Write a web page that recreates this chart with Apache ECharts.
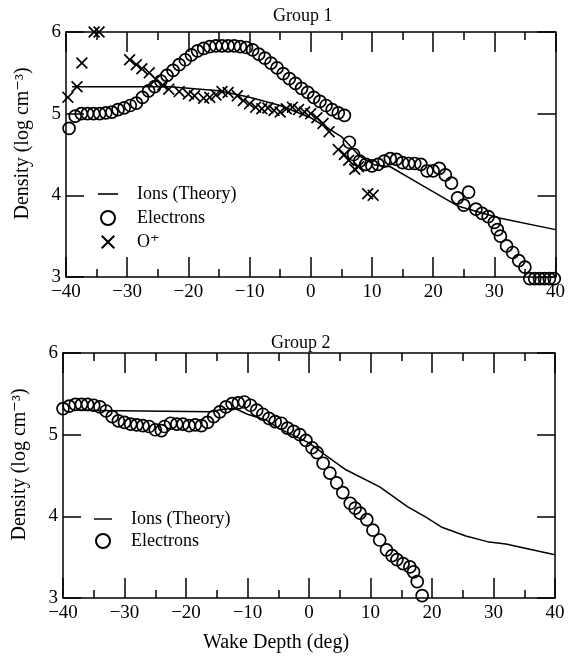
<!DOCTYPE html>
<html>
<head>
<meta charset="utf-8">
<script src="https://cdn.jsdelivr.net/npm/echarts@6/dist/echarts.min.js"></script>
<style>
html,body{margin:0;padding:0;background:#fff;}
#chart{width:568px;height:656px;}
</style>
</head>
<body>
<div id="chart"></div>
<script>
// ---- Data (wake depth in deg, density in log cm^-3) ----
const titles = ['Group 1', 'Group 2'];
const seriesNames = ['Ions (Theory)', 'Electrons', 'O\u207A'];
const xTicks = { min: -40, max: 40, step: 10 };
const yTicks = { min: 3, max: 6, step: 1 };

const ionsTheory1 = [[-39,5.33],[-23,5.33],[-15,5.28],[-10,5.2],[-5,5.1],[0,4.95],[5,4.72],[8,4.48],[10.5,4.37],[13,4.35],[18,4.13],[24,3.87],[31,3.72],[40,3.58]];

const electrons1 = [[-39.5,4.82],[-38.5,4.97],[-37.5,5.0],[-36.5,5.0],[-35.5,5.0],[-34.5,5.0],[-33.5,5.01],[-32.5,5.02],[-31.5,5.05],[-30.5,5.07],[-29.5,5.1],[-28.5,5.13],[-27.5,5.2],[-26.5,5.28],[-25.5,5.33],[-24.5,5.4],[-23.5,5.47],[-22.5,5.53],[-21.5,5.6],[-20.5,5.66],[-19.5,5.72],[-18.5,5.77],[-17.5,5.8],[-16.5,5.82],[-15.5,5.83],[-14.5,5.83],[-13.5,5.83],[-12.5,5.83],[-11.5,5.82],[-10.5,5.81],[-9.5,5.78],[-8.5,5.73],[-7.5,5.68],[-6.5,5.62],[-5.5,5.56],[-4.5,5.49],[-3.5,5.43],[-2.5,5.37],[-1.5,5.31],[-0.5,5.26],[0.5,5.2],[1.5,5.15],[2.5,5.1],[3.5,5.05],[4.5,5.01],[5.5,4.98],[6.3,4.65],[7,4.5],[8,4.42],[9,4.38],[10,4.36],[11,4.38],[12,4.42],[13,4.45],[14,4.44],[15,4.4],[16,4.39],[17,4.39],[18,4.38],[19,4.3],[20,4.3],[21,4.33],[22,4.25],[23,4.15],[24,3.97],[25,3.88],[25.8,4.04],[27,3.83],[28,3.78],[29,3.74],[30,3.67],[30.5,3.58],[31,3.5],[32,3.38],[33,3.3],[34,3.2],[35,3.12],[35.8,2.98],[36.6,2.98],[37.4,2.98],[38.2,2.98],[39,2.98],[39.8,2.98]];

const oPlus1 = [[-39.7,5.2],[-38.2,5.33],[-37.4,5.62],[-35.4,6.0],[-34.6,6.0],[-29.6,5.66],[-28.5,5.6],[-27.6,5.55],[-26.4,5.5],[-25.3,5.42],[-24.2,5.35],[-23.2,5.3],[-21.5,5.27],[-20,5.24],[-19,5.22],[-17.5,5.19],[-16.5,5.2],[-15.5,5.23],[-14.5,5.27],[-13.5,5.26],[-12,5.22],[-11,5.16],[-10,5.12],[-9,5.08],[-8,5.06],[-7,5.07],[-6,5.04],[-5,5.02],[-4,5.06],[-3,5.08],[-2,5.05],[-1,5.02],[0,5.0],[1,4.95],[2,4.88],[3,4.78],[4.5,4.56],[5.5,4.5],[6.2,4.43],[7.2,4.32],[7.8,4.35],[9.3,4.02],[10.2,4.0]];

const ionsTheory2 = [[-38,5.3],[-16,5.28],[-14,5.31],[-12,5.32],[-10,5.25],[-7,5.18],[-5,5.08],[0,4.9],[3,4.73],[6,4.57],[11.5,4.36],[16,4.12],[19,3.99],[21.5,3.87],[25.5,3.76],[29,3.69],[32,3.66],[40,3.53]];

const electrons2 = [[-40,5.32],[-39,5.35],[-38,5.37],[-37,5.37],[-36,5.37],[-35,5.36],[-34,5.34],[-33,5.29],[-32,5.22],[-31,5.17],[-30,5.15],[-29,5.13],[-28,5.12],[-27,5.11],[-26,5.1],[-25,5.06],[-24,5.05],[-23.5,5.1],[-22.5,5.14],[-21.5,5.13],[-20.5,5.13],[-19.5,5.11],[-18.5,5.12],[-17.5,5.11],[-16.5,5.15],[-15.5,5.22],[-14.5,5.28],[-13.5,5.34],[-12.5,5.38],[-11.5,5.39],[-10.5,5.4],[-9.5,5.36],[-8.5,5.3],[-7.5,5.25],[-6.5,5.2],[-5.5,5.16],[-4.5,5.14],[-3.5,5.08],[-2.5,5.04],[-1.5,5.0],[-0.5,4.93],[0.5,4.84],[1.3,4.78],[2.3,4.65],[3.4,4.53],[4.5,4.41],[5.5,4.29],[6.7,4.16],[7.5,4.1],[8.3,4.04],[9.4,3.96],[10.4,3.83],[11.5,3.71],[12.6,3.59],[13.5,3.52],[14.3,3.47],[15.3,3.42],[16.4,3.38],[17,3.32],[17.6,3.2],[18.4,3.03]];

// ---- Styling ----
const FONT = "'Liberation Serif','DejaVu Serif',serif";
const BLACK = '#000';
const xSymbol = 'path://M0,1L1,0L5,4L9,0L10,1L6,5L10,9L9,10L5,6L1,10L0,9L4,5Z';
const dashIcon = 'path://M0,0H20V1.6H0Z';
const fmt = v => (v < 0 ? '\u2212' + Math.abs(v) : String(v));

function xAxes(gi, withName) {
  const base = {
    gridIndex: gi, type: 'value', min: xTicks.min, max: xTicks.max, interval: xTicks.step,
    axisLine: { show: true, onZero: false, lineStyle: { color: BLACK, width: 1.5 } },
    axisTick: { show: true, inside: true, length: 20, lineStyle: { color: BLACK, width: 1.5 } },
    minorTick: { show: true, splitNumber: 2, length: 8, lineStyle: { color: BLACK, width: 1.5 } },
    splitLine: { show: false }, minorSplitLine: { show: false }
  };
  const bottom = Object.assign({}, base, {
    position: 'bottom',
    axisLabel: { show: true, formatter: fmt, color: BLACK, fontFamily: FONT, fontSize: 19, margin: 6 }
  });
  if (withName) {
    Object.assign(bottom, {
      name: 'Wake Depth (deg)', nameLocation: 'middle', nameGap: 35,
      nameTextStyle: { color: BLACK, fontFamily: FONT, fontSize: 20, padding: [0, 66, 0, 0] }
    });
  }
  const top = Object.assign({}, base, { position: 'top', axisLabel: { show: false } });
  return [bottom, top];
}
function yAxes(gi) {
  const base = {
    gridIndex: gi, type: 'value', min: yTicks.min, max: yTicks.max, interval: yTicks.step,
    axisLine: { show: true, onZero: false, lineStyle: { color: BLACK, width: 1.5 } },
    axisTick: { show: true, inside: true, length: 18, lineStyle: { color: BLACK, width: 1.5 } },
    splitLine: { show: false }
  };
  const left = Object.assign({}, base, {
    position: 'left',
    axisLabel: { show: true, color: BLACK, fontFamily: FONT, fontSize: 19, margin: 5 },
    name: 'Density (log cm\u207B\u00B3)', nameLocation: 'middle', nameGap: 33,
    nameTextStyle: { color: BLACK, fontFamily: FONT, fontSize: 20, padding: [0, 0, 0, 22] }
  });
  const right = Object.assign({}, base, { position: 'right', axisLabel: { show: false } });
  return [left, right];
}

function lineSeries(name, data, xi, yi) {
  return { name, type: 'line', data, xAxisIndex: xi, yAxisIndex: yi, symbol: 'none',
    smooth: false, lineStyle: { color: BLACK, width: 1.5 }, itemStyle: { color: BLACK }, z: 3 };
}
function circleSeries(name, data, xi, yi) {
  return { name, type: 'scatter', data, xAxisIndex: xi, yAxisIndex: yi, symbol: 'circle', symbolSize: 12,
    clip: false,
    itemStyle: { color: 'rgba(0,0,0,0)', borderColor: BLACK, borderWidth: 1.7, opacity: 1 }, z: 4 };
}
function crossSeries(name, data, xi, yi) {
  return { name, type: 'scatter', data, xAxisIndex: xi, yAxisIndex: yi, symbol: xSymbol, symbolSize: 12,
    clip: false, itemStyle: { color: BLACK, opacity: 1 }, z: 5 };
}

const legendText = { color: BLACK, fontFamily: FONT, fontSize: 18, padding: [0, 0, 0, 14] };
function legendData(names) {
  return names.map(n => (n === seriesNames[0] ? { name: n, icon: dashIcon } : { name: n }));
}

const option = {
  animation: false,
  backgroundColor: '#fff',
  title: [
    { text: titles[0], left: 268, top: 2, textStyle: { color: BLACK, fontFamily: FONT, fontSize: 18, fontWeight: 'normal' } },
    { text: titles[1], left: 266, top: 329, textStyle: { color: BLACK, fontFamily: FONT, fontSize: 18, fontWeight: 'normal' } }
  ],
  legend: [
    { orient: 'vertical', left: 93, top: 180, itemGap: 6, itemWidth: 20, itemHeight: 14, symbolKeepAspect: true,
      data: legendData(seriesNames), textStyle: legendText, selectedMode: false },
    { orient: 'vertical', left: 89, top: 505, itemGap: 4, itemWidth: 18, itemHeight: 14, symbolKeepAspect: true,
      data: legendData(seriesNames.slice(0, 2)), textStyle: legendText, selectedMode: false }
  ],
  grid: [
    { left: 66, top: 32, width: 493, height: 245 },
    { left: 63, top: 353, width: 492, height: 245 }
  ],
  xAxis: [].concat(xAxes(0, false), xAxes(1, true)),
  yAxis: [].concat(yAxes(0), yAxes(1)),
  series: [
    lineSeries(seriesNames[0], ionsTheory1, 0, 0),
    circleSeries(seriesNames[1], electrons1, 0, 0),
    crossSeries(seriesNames[2], oPlus1, 0, 0),
    lineSeries(seriesNames[0], ionsTheory2, 2, 2),
    circleSeries(seriesNames[1], electrons2, 2, 2)
  ]
};

const chart = echarts.init(document.getElementById('chart'), null, { renderer: 'canvas' });
chart.setOption(option);
</script>
</body>
</html>
